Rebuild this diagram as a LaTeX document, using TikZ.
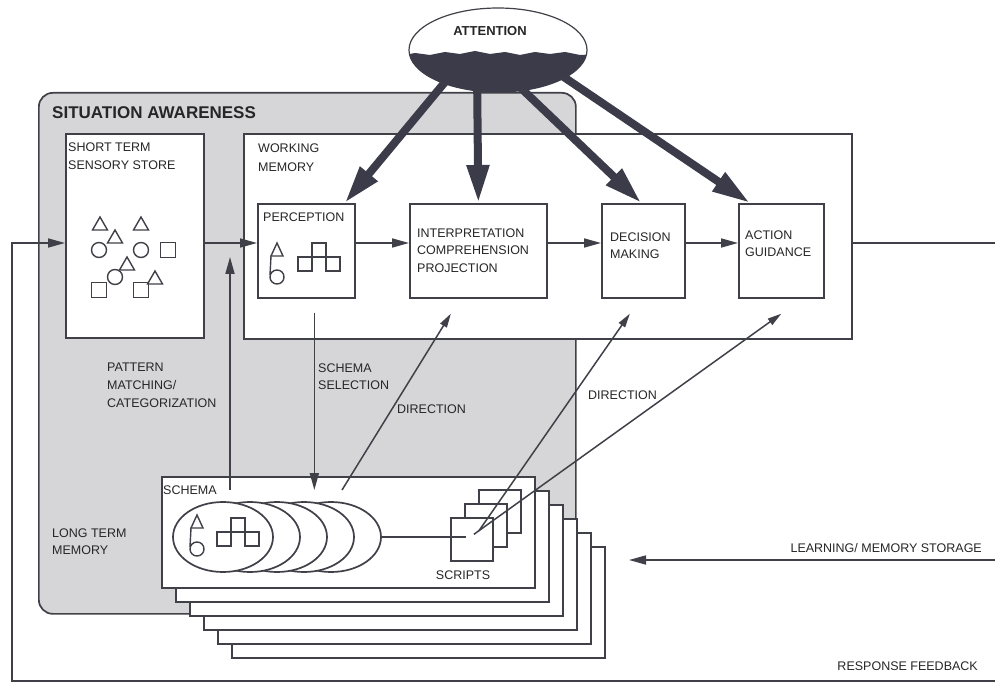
\documentclass[tikz,border=0pt]{standalone}
\usepackage{fontspec}
\setmainfont{Liberation Sans}
\usetikzlibrary{arrows.meta,shapes.geometric,calc}

\definecolor{inkc}{HTML}{404048}
\definecolor{sagray}{HTML}{D6D6D9}
\definecolor{attnc}{HTML}{3B3B4A}
\newcommand\lblfont{\fontsize{12.5}{17.5}\selectfont}

\tikzset{
  ink/.style={draw=inkc, line width=1.7pt},
  icon/.style={draw=inkc, line width=1.4pt},
  box/.style={ink, fill=white, inner sep=0pt, anchor=north west},
  lbl/.style={font=\lblfont, text=black!85, align=left, inner sep=0pt, anchor=north west},
  flow/.style={ink, -{Triangle[length=17pt,width=9pt]}},
  dirarrow/.style={ink, line width=1.5pt, -{Triangle[length=14pt,width=7.5pt]}},
  attnarrow/.style={draw=attnc, line width=8pt, -{Triangle[length=38pt,width=21pt]}},
}

\begin{document}
\begin{tikzpicture}[x=1pt,y=-1pt]
\useasboundingbox (0,0) rectangle (995,684);

% situation awareness
\node[box, fill=sagray, rounded corners=14pt, minimum width=537pt, minimum height=521pt] (sa) at (38,92) {};
\node[lbl, font=\fontsize{17}{20}\selectfont\bfseries] (satitle) at ([shift={(14,14)}]sa.north west) {SITUATION AWARENESS};
\node[lbl] (ltm) at (52,528.5) {LONG TERM\\MEMORY};

% boxes
\node[box, minimum width=138pt, minimum height=204pt] (stss) at (65,133) {};
\node[box, minimum width=608pt, minimum height=205pt] (wm) at (243,133) {};
\node[box, minimum width=97pt, minimum height=94pt] (perc) at (257,203) {};
\node[box, minimum width=137pt, minimum height=94pt] (interp) at (409,203) {};
\node[box, minimum width=83pt, minimum height=94pt] (dm) at (601,203) {};
\node[box, minimum width=85pt, minimum height=94pt] (ag) at (738,203) {};

\node[lbl, font=\fontsize{12.5}{18}\selectfont] (stsslbl) at ([shift={(3,9.5)}]stss.north west) {SHORT TERM\\SENSORY STORE};
\node[lbl, font=\fontsize{12.5}{19}\selectfont] (wmlbl) at ([shift={(15,10.5)}]wm.north west) {WORKING\\MEMORY};
\node[lbl] (perclbl) at ([shift={(6,9.5)}]perc.north west) {PERCEPTION};
\node[lbl] (interplbl) at ([shift={(8,25.5)}]interp.north west) {INTERPRETATION\\COMPREHENSION\\PROJECTION};
\node[lbl] (dmlbl) at ([shift={(9,29.5)}]dm.north west) {DECISION\\MAKING};
\node[lbl] (aglbl) at ([shift={(7,27.5)}]ag.north west) {ACTION\\GUIDANCE};

% sensory store contents
\foreach \x/\y in {100/217,141/217,115/230,127/257,155/271}
  \draw[icon] (\x,\y) -- ++(7.5,13) -- ++(-15,0) -- cycle;
\foreach \x/\y in {99/250,141/250,115/277}
  \draw[icon] (\x,\y) circle (7.5pt);
\foreach \x/\y in {168/250,99/290,141/290}
  \draw[icon] (\x-7.5,\y-7.5) rectangle ++(15,15);

% schema cards
\foreach \k in {5,4,...,0}
  \node[box, minimum width=373pt, minimum height=111pt] (card\k) at (161+14*\k,476+14*\k) {};
\node[lbl] (schemalbl) at ([shift={(2,9.5)}]card0.north west) {SCHEMA};

\foreach \k in {4,3,...,0}
  \node[ink, fill=white, ellipse, minimum width=100pt, minimum height=70pt, inner sep=0pt] (sch\k) at (223+27*\k,537) {};

\foreach \k in {2,1,0}
  \node[box, minimum width=42pt, minimum height=43pt] (scr\k) at (450+14*\k,517-14*\k) {};
\node[lbl, anchor=center] (scrlbl) at (463,575) {SCRIPTS};
\draw[ink] (sch4.east) -- ([xshift=-6pt]sch4.east -| scr0.center);

% perception / schema icons
\foreach \x/\y in {277/243,197/515} {
  \draw[icon] (\x,\y) -- ++(6,13) -- ++(-12,0) -- cycle;
  \draw[icon] (\x-6,\y+13) -- (\x-7,\y+32);
  \draw[icon] (\x,\y+34) circle (7pt);
}
\foreach \x/\y in {298/257,217/532} {
  \draw[icon] (\x,\y) rectangle ++(14,14);
  \draw[icon] (\x+14,\y) rectangle ++(14,-14);
  \draw[icon] (\x+28,\y) rectangle ++(14,14);
}

% flow
\coordinate (lvl) at (0,243);
\coordinate (fbr) at (995,681);
\coordinate (fbl) at (12,681);
\coordinate (outr) at (995,243);
\draw[flow] (fbr) -- (fbl) |- (stss.west |- lvl);
\draw[flow] (stss.east |- lvl) -- (perc.west |- lvl);
\draw[flow] (perc.east |- lvl) -- (interp.west |- lvl);
\draw[flow] (interp.east |- lvl) -- (dm.west |- lvl);
\draw[flow] (dm.east |- lvl) -- (ag.west |- lvl);
\draw[ink] (wm.east |- outr) -- (outr);

\coordinate (pmtail) at (230,490);
\coordinate (pmtip) at (230,257);
\draw[flow] (pmtail) -- (pmtip);
\draw[flow] ([shift={(8,14)}]perc.south) -- ([xshift=8pt]perc.south |- pmtail);
\node[lbl, font=\fontsize{12.5}{18}\selectfont] (pmlbl) at (107,362.5) {PATTERN\\MATCHING/\\CATEGORIZATION};
\node[lbl] (sellbl) at (318,363.5) {SCHEMA\\SELECTION};

% direction
\coordinate (dirtail) at (342,490);
\draw[dirarrow] (dirtail) -- ([shift={(-27.5,15)}]interp.south);
\draw[dirarrow] ([shift={(7,-8.5)}]scr0.center) -- ([shift={(-13.5,15)}]dm.south);
\draw[dirarrow] ([shift={(2,-5)}]scr0.center) -- ([shift={(0,15)}]ag.south);
\node[lbl] (dir1lbl) at (397,404.5) {DIRECTION};
\node[lbl] (dir2lbl) at (588,390.5) {DIRECTION};

% learning and feedback
\coordinate (lrn) at (995,560);
\coordinate (lrntip) at (629,560);
\draw[flow] (lrn) -- (lrntip);
\node[lbl, anchor=east] (lrnlbl) at (982,548) {LEARNING/ MEMORY STORAGE};
\node[lbl, anchor=east] (fblbl) at (978,666) {RESPONSE FEEDBACK};

% attention
\coordinate (attnmid) at (498,50);
\draw[attnarrow] ([shift={(-43,20)}]attnmid) -- ([xshift=-11pt]perc.north east);
\draw[attnarrow] ([shift={(-21,20)}]attnmid) -- (interp.north);
\draw[attnarrow] ([shift={(4,20)}]attnmid) -- ([xshift=-2pt]dm.north);
\draw[attnarrow] ([shift={(48,15)}]attnmid) -- ([xshift=12pt]ag.north west);

\node[ellipse, draw=inkc, line width=1.2pt, fill=white, minimum width=178pt, minimum height=84pt, inner sep=0pt] (attn) at (attnmid) {};
\begin{scope}
  \clip (attnmid) ellipse (89pt and 42pt);
  \fill[attnc] (400,56) -- (415,53) -- (430,55) -- (445,52) -- (460,54) -- (475,51) -- (490,54)
    -- (505,52) -- (520,55) -- (535,52) -- (550,54) -- (565,52) -- (580,55) -- (600,54)
    -- (600,100) -- (400,100) -- cycle;
\end{scope}
\node[lbl, anchor=center, font=\fontsize{13}{15}\selectfont\bfseries] (attnlbl) at (490,31) {ATTENTION};
\end{tikzpicture}
\end{document}
